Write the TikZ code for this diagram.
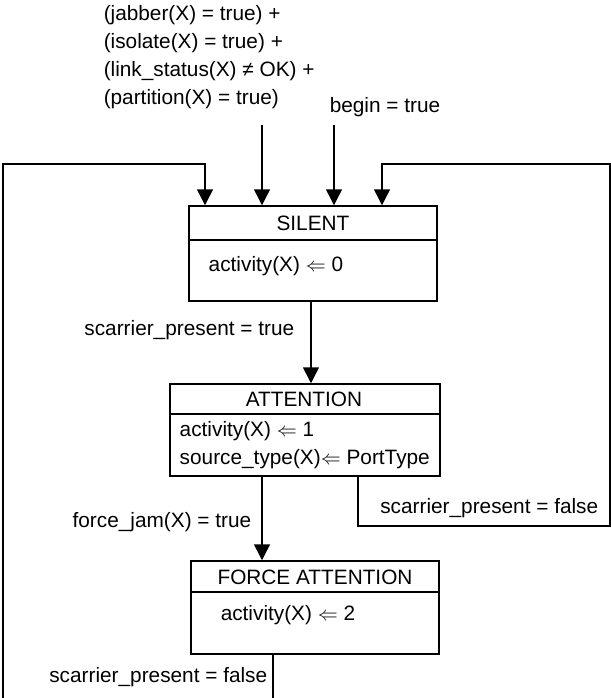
\documentclass[tikz,border=0pt]{standalone}
\usepackage{fontspec}
\setmainfont{Liberation Sans}
\usetikzlibrary{arrows.meta}
\begin{document}
\begin{tikzpicture}[x=0.5pt,y=-0.5pt,
  line width=0.75pt,
  every node/.style={font=\fontsize{10.4}{12}\selectfont},
  box/.style={draw, line width=0.75pt, inner sep=0pt, rectangle},
  txt/.style={inner sep=0pt},
  arr/.style={-{Triangle[width=8pt,length=8pt]}},
  ln/.style={line width=0.75pt}]
\useasboundingbox (0,0) rectangle (611,698);
\clip (0,0) rectangle (611,698);

% top condition texts
\node[txt, anchor=west] (c1) at (103,15) {(jabber(X) = true) +};
\node[txt, anchor=west] (c2) at (103,43) {(isolate(X) = true) +};
\node[txt, anchor=west] (c3) at (103,71) {(link\_status(X) ≠ OK) +};
\node[txt, anchor=west] (c4) at (103,99) {(partition(X) = true)};
\node[txt, anchor=west] (c5) at (329,107) {begin = true};

% SILENT
\node[box, minimum width=124pt, minimum height=47.5pt] (silent) at (313,253.5) {};
\coordinate (sdl) at (189,240);
\draw[ln] (sdl -| silent.west) -- (sdl -| silent.east);
\node[txt] (silentT) at (313,223) {SILENT};
\node[txt, anchor=west] (silentB) at (208,266) {activity(X) $\Leftarrow$ 0};

% ATTENTION
\node[box, minimum width=135pt, minimum height=46pt] (att) at (305,430) {};
\coordinate (adl) at (170,414);
\draw[ln] (adl -| att.west) -- (adl -| att.east);
\node[txt] (attT) at (304,399) {ATTENTION};
\node[txt, anchor=west] (attB1) at (179,431) {activity(X) $\Leftarrow$ 1};
\node[txt, anchor=west] (attB2) at (179,459) {source\_type(X)$\Leftarrow$ PortType};

% FORCE ATTENTION
\node[box, minimum width=124pt, minimum height=46.5pt] (force) at (315,607.5) {};
\coordinate (fdl) at (191,592);
\draw[ln] (fdl -| force.west) -- (fdl -| force.east);
\node[txt] (forceT) at (315,577) {FORCE ATTENTION};
\node[txt, anchor=west] (forceB) at (220,615) {activity(X) $\Leftarrow$ 2};

% top entry arrows
\coordinate (in1) at (262,125);
\coordinate (in2) at (334,125);
\draw[arr] (in1) -- (in1 |- silent.north);
\draw[arr] (in2) -- (in2 |- silent.north);

% SILENT -> ATTENTION
\draw[arr] (311,0 |- silent.south) -- (311,0 |- att.north);
\node[txt, anchor=east] (l1) at (295,330) {scarrier\_present = true};

% ATTENTION -> FORCE ATTENTION
\draw[arr] (262,0 |- att.south) -- (262,0 |- force.north);
\node[txt, anchor=east] (l2) at (252,522) {force\_jam(X) = true};

% ATTENTION -> SILENT (right loop)
\draw[arr] (358,0 |- att.south) -- (358,526) -- (610,526) -- (610,164) -- (382,164) -- (382,0 |- silent.north);
\node[txt, anchor=east] (l3) at (599,508) {scarrier\_present = false};

% FORCE ATTENTION -> SILENT (left loop)
\draw[arr] (273,0 |- force.south) -- (273,710) -- (3,710) -- (3,164) -- (205,164) -- (205,0 |- silent.north);
\node[txt, anchor=east] (l4) at (268,677) {scarrier\_present = false};
\end{tikzpicture}
\end{document}
